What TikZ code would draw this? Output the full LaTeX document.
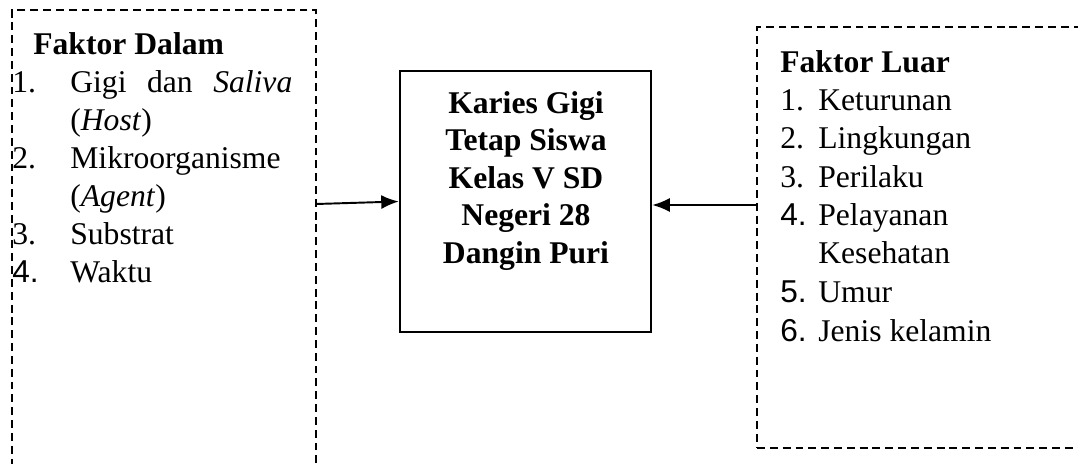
\documentclass[tikz,border=0pt]{standalone}
\usepackage{fontspec}
\setmainfont{Liberation Serif}
\newfontfamily\numfont{Liberation Sans}
\usetikzlibrary{arrows.meta}

\begin{document}
\begin{tikzpicture}[x=0.02cm, y=-0.02cm,
    dashbox/.style={draw, dash pattern=on 4.5pt off 2.8pt, line width=1pt, inner sep=0pt},
    mainbox/.style={draw, line width=1.4pt, inner sep=0pt, minimum width=5.02cm, minimum height=5.22cm},
    txt/.style={anchor=base west, inner sep=0pt, font=\fontsize{18}{21.9}\selectfont},
    head/.style={txt, font=\fontsize{18}{21.9}\selectfont\bfseries},
    mid/.style={anchor=base, inner sep=0pt, font=\fontsize{18}{21.9}\selectfont\bfseries},
    arr/.style={-{Latex[length=10pt,width=8pt]}, line width=1.1pt}]
  \useasboundingbox (0,0) rectangle (1078,463);
  \clip (0,0) rectangle (1078,463);

  % boxes
  \node[dashbox, minimum width=6.08cm, minimum height=9.4cm] (dalam) at (164,245) {};
  \node[dashbox, minimum width=6.86cm, minimum height=8.42cm] (luar) at (928.5,237.5) {};
  \node[mainbox] (karies) at (525.5,201.5) {};

  % faktor dalam
  \node[head] (dalamT) at (33,54) {Faktor Dalam};
  \node[txt] (d1) at (12,92) {1.};
  \node[txt] (d1a) at (70,92) {\makebox[4.44cm][s]{Gigi dan \textit{Saliva}}};
  \node[txt] (d1b) at (70,130) {(\textit{Host})};
  \node[txt] (d2) at (12,168) {2.};
  \node[txt] (d2a) at (70,168) {Mikroorganisme};
  \node[txt] (d2b) at (70,206) {(\textit{Agent})};
  \node[txt] (d3) at (12,244) {3.};
  \node[txt] (d3a) at (70,244) {Substrat};
  \node[txt] (d4) at (12,282) {\numfont 4.};
  \node[txt] (d4a) at (70,282) {Waktu};

  % karies gigi
  \node[mid] (k1) at (526,113) {Karies Gigi};
  \node[mid] (k2) at (526,150.5) {Tetap Siswa};
  \node[mid] (k3) at (526,188) {Kelas V SD};
  \node[mid] (k4) at (526,225.5) {Negeri 28};
  \node[mid] (k5) at (526,263) {Dangin Puri};

  % faktor luar
  \node[head] (luarT) at (780,72) {Faktor Luar};
  \node[txt] (l1) at (780,110) {1.};
  \node[txt] (l1a) at (818,110) {Keturunan};
  \node[txt] (l2) at (780,148) {2.};
  \node[txt] (l2a) at (818,148) {Lingkungan};
  \node[txt] (l3) at (780,187) {3.};
  \node[txt] (l3a) at (818,187) {Perilaku};
  \node[txt] (l4) at (780,225) {\numfont 4.};
  \node[txt] (l4a) at (818,225) {Pelayanan};
  \node[txt] (l4b) at (818,263) {Kesehatan};
  \node[txt] (l5) at (780,302) {\numfont 5.};
  \node[txt] (l5a) at (818,302) {Umur};
  \node[txt] (l6) at (780,341) {\numfont 6.};
  \node[txt] (l6a) at (818,341) {Jenis kelamin};

  % arrows
  \coordinate (inL) at (316,204);
  \coordinate (inR) at (757,205);
  \draw[arr] (inL) -- (karies.west);
  \draw[arr] (inR) -- (karies.east |- inR);
\end{tikzpicture}
\end{document}
